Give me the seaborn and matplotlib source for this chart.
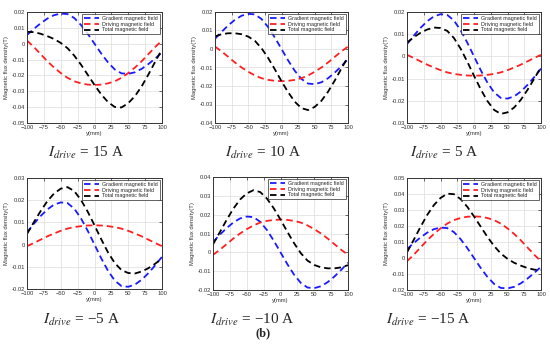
import numpy as np
import pandas as pd
import seaborn as sns
import matplotlib.pyplot as plt
from matplotlib.ticker import FuncFormatter

# position along y axis (mm)
y_mm = [-100, -90, -80, -70, -60, -50, -40, -30, -20, -10, 0,
        10, 20, 30, 40, 50, 60, 70, 80, 90, 100]

# gradient field is the same in every panel
gradient = [0.0055, 0.0093, 0.0128, 0.0158, 0.0180, 0.0190, 0.0187, 0.0162, 0.0118, 0.0062, 0.0,
            -0.0062, -0.0118, -0.0162, -0.0187, -0.0190, -0.0180, -0.0158, -0.0128, -0.0093, -0.0055]

driving_15 = [0.002, -0.002, -0.0065, -0.011, -0.015, -0.0185, -0.0215, -0.0237, -0.025, -0.0258, -0.026,
              -0.0258, -0.025, -0.0237, -0.0215, -0.0185, -0.015, -0.011, -0.0065, -0.002, 0.002]
driving_10 = [0.0013, -0.0013, -0.0043, -0.0073, -0.0100, -0.0123, -0.0143, -0.0158, -0.0167, -0.0172, -0.0174,
              -0.0172, -0.0167, -0.0158, -0.0143, -0.0123, -0.0100, -0.0073, -0.0043, -0.0013, 0.0013]
driving_5 = [0.0007, -0.0007, -0.0022, -0.0037, -0.0050, -0.0062, -0.0072, -0.0079, -0.0083, -0.0086, -0.0087,
             -0.0086, -0.0083, -0.0079, -0.0072, -0.0062, -0.0050, -0.0037, -0.0022, -0.0007, 0.0007]
driving_m5 = [-0.0007, 0.0007, 0.0022, 0.0037, 0.0050, 0.0062, 0.0072, 0.0079, 0.0083, 0.0086, 0.0087,
              0.0086, 0.0083, 0.0079, 0.0072, 0.0062, 0.0050, 0.0037, 0.0022, 0.0007, -0.0007]
driving_m10 = [-0.0013, 0.0013, 0.0043, 0.0073, 0.0100, 0.0123, 0.0143, 0.0158, 0.0167, 0.0172, 0.0174,
               0.0172, 0.0167, 0.0158, 0.0143, 0.0123, 0.0100, 0.0073, 0.0043, 0.0013, -0.0013]
driving_m15 = [-0.002, 0.002, 0.0065, 0.011, 0.015, 0.0185, 0.0215, 0.0237, 0.025, 0.0258, 0.026,
               0.0258, 0.025, 0.0237, 0.0215, 0.0185, 0.015, 0.011, 0.0065, 0.002, -0.002]

total_15 = [0.0075, 0.0073, 0.0063, 0.0048, 0.0030, 0.0005, -0.0028, -0.0075, -0.0132, -0.0196, -0.026,
            -0.032, -0.0368, -0.0399, -0.0402, -0.0375, -0.033, -0.0268, -0.0193, -0.0113, -0.0035]
total_10 = [0.0068, 0.0080, 0.0085, 0.0085, 0.0080, 0.0067, 0.0044, 0.0004, -0.0049, -0.0110, -0.0174,
            -0.0234, -0.0285, -0.0320, -0.0330, -0.0313, -0.0280, -0.0231, -0.0171, -0.0106, -0.0042]
total_5 = [0.0062, 0.0086, 0.0106, 0.0121, 0.0130, 0.0128, 0.0115, 0.0083, 0.0035, -0.0024, -0.0087,
           -0.0148, -0.0201, -0.0241, -0.0259, -0.0252, -0.0230, -0.0195, -0.0150, -0.0100, -0.0048]
total_m5 = [0.0048, 0.0100, 0.0150, 0.0195, 0.0230, 0.0252, 0.0259, 0.0241, 0.0201, 0.0148, 0.0087,
            0.0024, -0.0035, -0.0083, -0.0115, -0.0128, -0.0130, -0.0121, -0.0106, -0.0086, -0.0062]
total_m10 = [0.0042, 0.0106, 0.0171, 0.0231, 0.0280, 0.0313, 0.0330, 0.0320, 0.0285, 0.0234, 0.0174,
             0.0110, 0.0049, -0.0004, -0.0044, -0.0067, -0.0080, -0.0085, -0.0085, -0.0080, -0.0068]
total_m15 = [0.0035, 0.0113, 0.0193, 0.0268, 0.0330, 0.0375, 0.0402, 0.0399, 0.0368, 0.0320, 0.0260,
             0.0196, 0.0132, 0.0075, 0.0028, -0.0005, -0.0030, -0.0048, -0.0063, -0.0073, -0.0075]

currents = ["15", "10", "5", "\u22125", "\u221210", "\u221215"]
drivings = [driving_15, driving_10, driving_5, driving_m5, driving_m10, driving_m15]
totals = [total_15, total_10, total_5, total_m5, total_m10, total_m15]
y_limits = [(-0.05, 0.02), (-0.04, 0.02), (-0.03, 0.02),
            (-0.02, 0.03), (-0.02, 0.04), (-0.02, 0.05)]

sns.set_style("whitegrid")
plt.rcParams["font.family"] = ["Liberation Sans", "DejaVu Sans"]
plt.rcParams["mathtext.fontset"] = "stix"
plt.rcParams["lines.dashed_pattern"] = [3.6, 2.2]

fig = plt.figure(figsize=(5.5, 3.5), dpi=100)

# axes boxes in pixels (left, top, right, bottom)
boxes = [(27, 12, 162, 123), (215, 12, 348, 123), (407, 12, 541, 123),
         (27, 178, 162, 289), (213, 177, 348, 290), (407, 178, 541, 290)]
label_pos = [(86, 153), (263, 153), (444, 153), (82, 320), (252, 320), (428, 320)]

fmt = FuncFormatter(lambda v, p: "0" if abs(v) < 1e-9 else f"{v:g}")

for i in range(6):
    l, t, r, b = boxes[i]
    ax = fig.add_axes([l / 550, 1 - b / 350, (r - l) / 550, (b - t) / 350])
    sns.lineplot(x=y_mm, y=gradient, ax=ax, color="#1a1aff", linestyle="--", lw=1.3,
                 label="Gradient magnetic field")
    sns.lineplot(x=y_mm, y=drivings[i], ax=ax, color="#ff2020", linestyle="--", lw=1.3,
                 label="Driving magnetic field")
    sns.lineplot(x=y_mm, y=totals[i], ax=ax, color="black", linestyle="--", lw=1.3,
                 label="Total magnetic field")
    lo, hi = y_limits[i]
    ax.set_xlim(-100, 100)
    ax.set_ylim(lo, hi)
    ax.set_xticks(np.arange(-100, 101, 25))
    ax.set_yticks(np.arange(lo, hi + 0.001, 0.01))
    ax.yaxis.set_major_formatter(fmt)
    ax.tick_params(labelsize=4.2, direction="in", length=2, width=0.5,
                   top=True, right=True, pad=1.5, colors="#333333")
    ax.grid(True, color="#dcdcdc", lw=0.5)
    for s in ax.spines.values():
        s.set_color("#333333")
        s.set_linewidth(0.7)
    ax.set_xlabel("y(mm)", fontsize=4.2, labelpad=1, color="#333333")
    ax.set_ylabel("Magnetic flux density(T)", fontsize=4.2, labelpad=2, color="#333333")
    leg = ax.legend(loc="upper right", fontsize=3.9, frameon=True, fancybox=False,
                    handlelength=2.7, borderpad=0.3, labelspacing=0.15,
                    borderaxespad=0.4, handletextpad=0.7)
    leg.get_frame().set_edgecolor("#222222")
    leg.get_frame().set_linewidth(0.6)
    x, y = label_pos[i]
    fig.text(x / 550, 1 - y / 350, r"$I_{drive}$" + " = " + currents[i] + " A",
             ha="center", va="center", fontsize=11,
             family=["Liberation Serif", "DejaVu Serif"])

fig.text(263 / 550, 1 - 333 / 350, "(b)", ha="center", va="center", fontsize=9,
         fontweight="bold", family=["Liberation Serif", "DejaVu Serif"])

fig.savefig("out.png", dpi=100)
